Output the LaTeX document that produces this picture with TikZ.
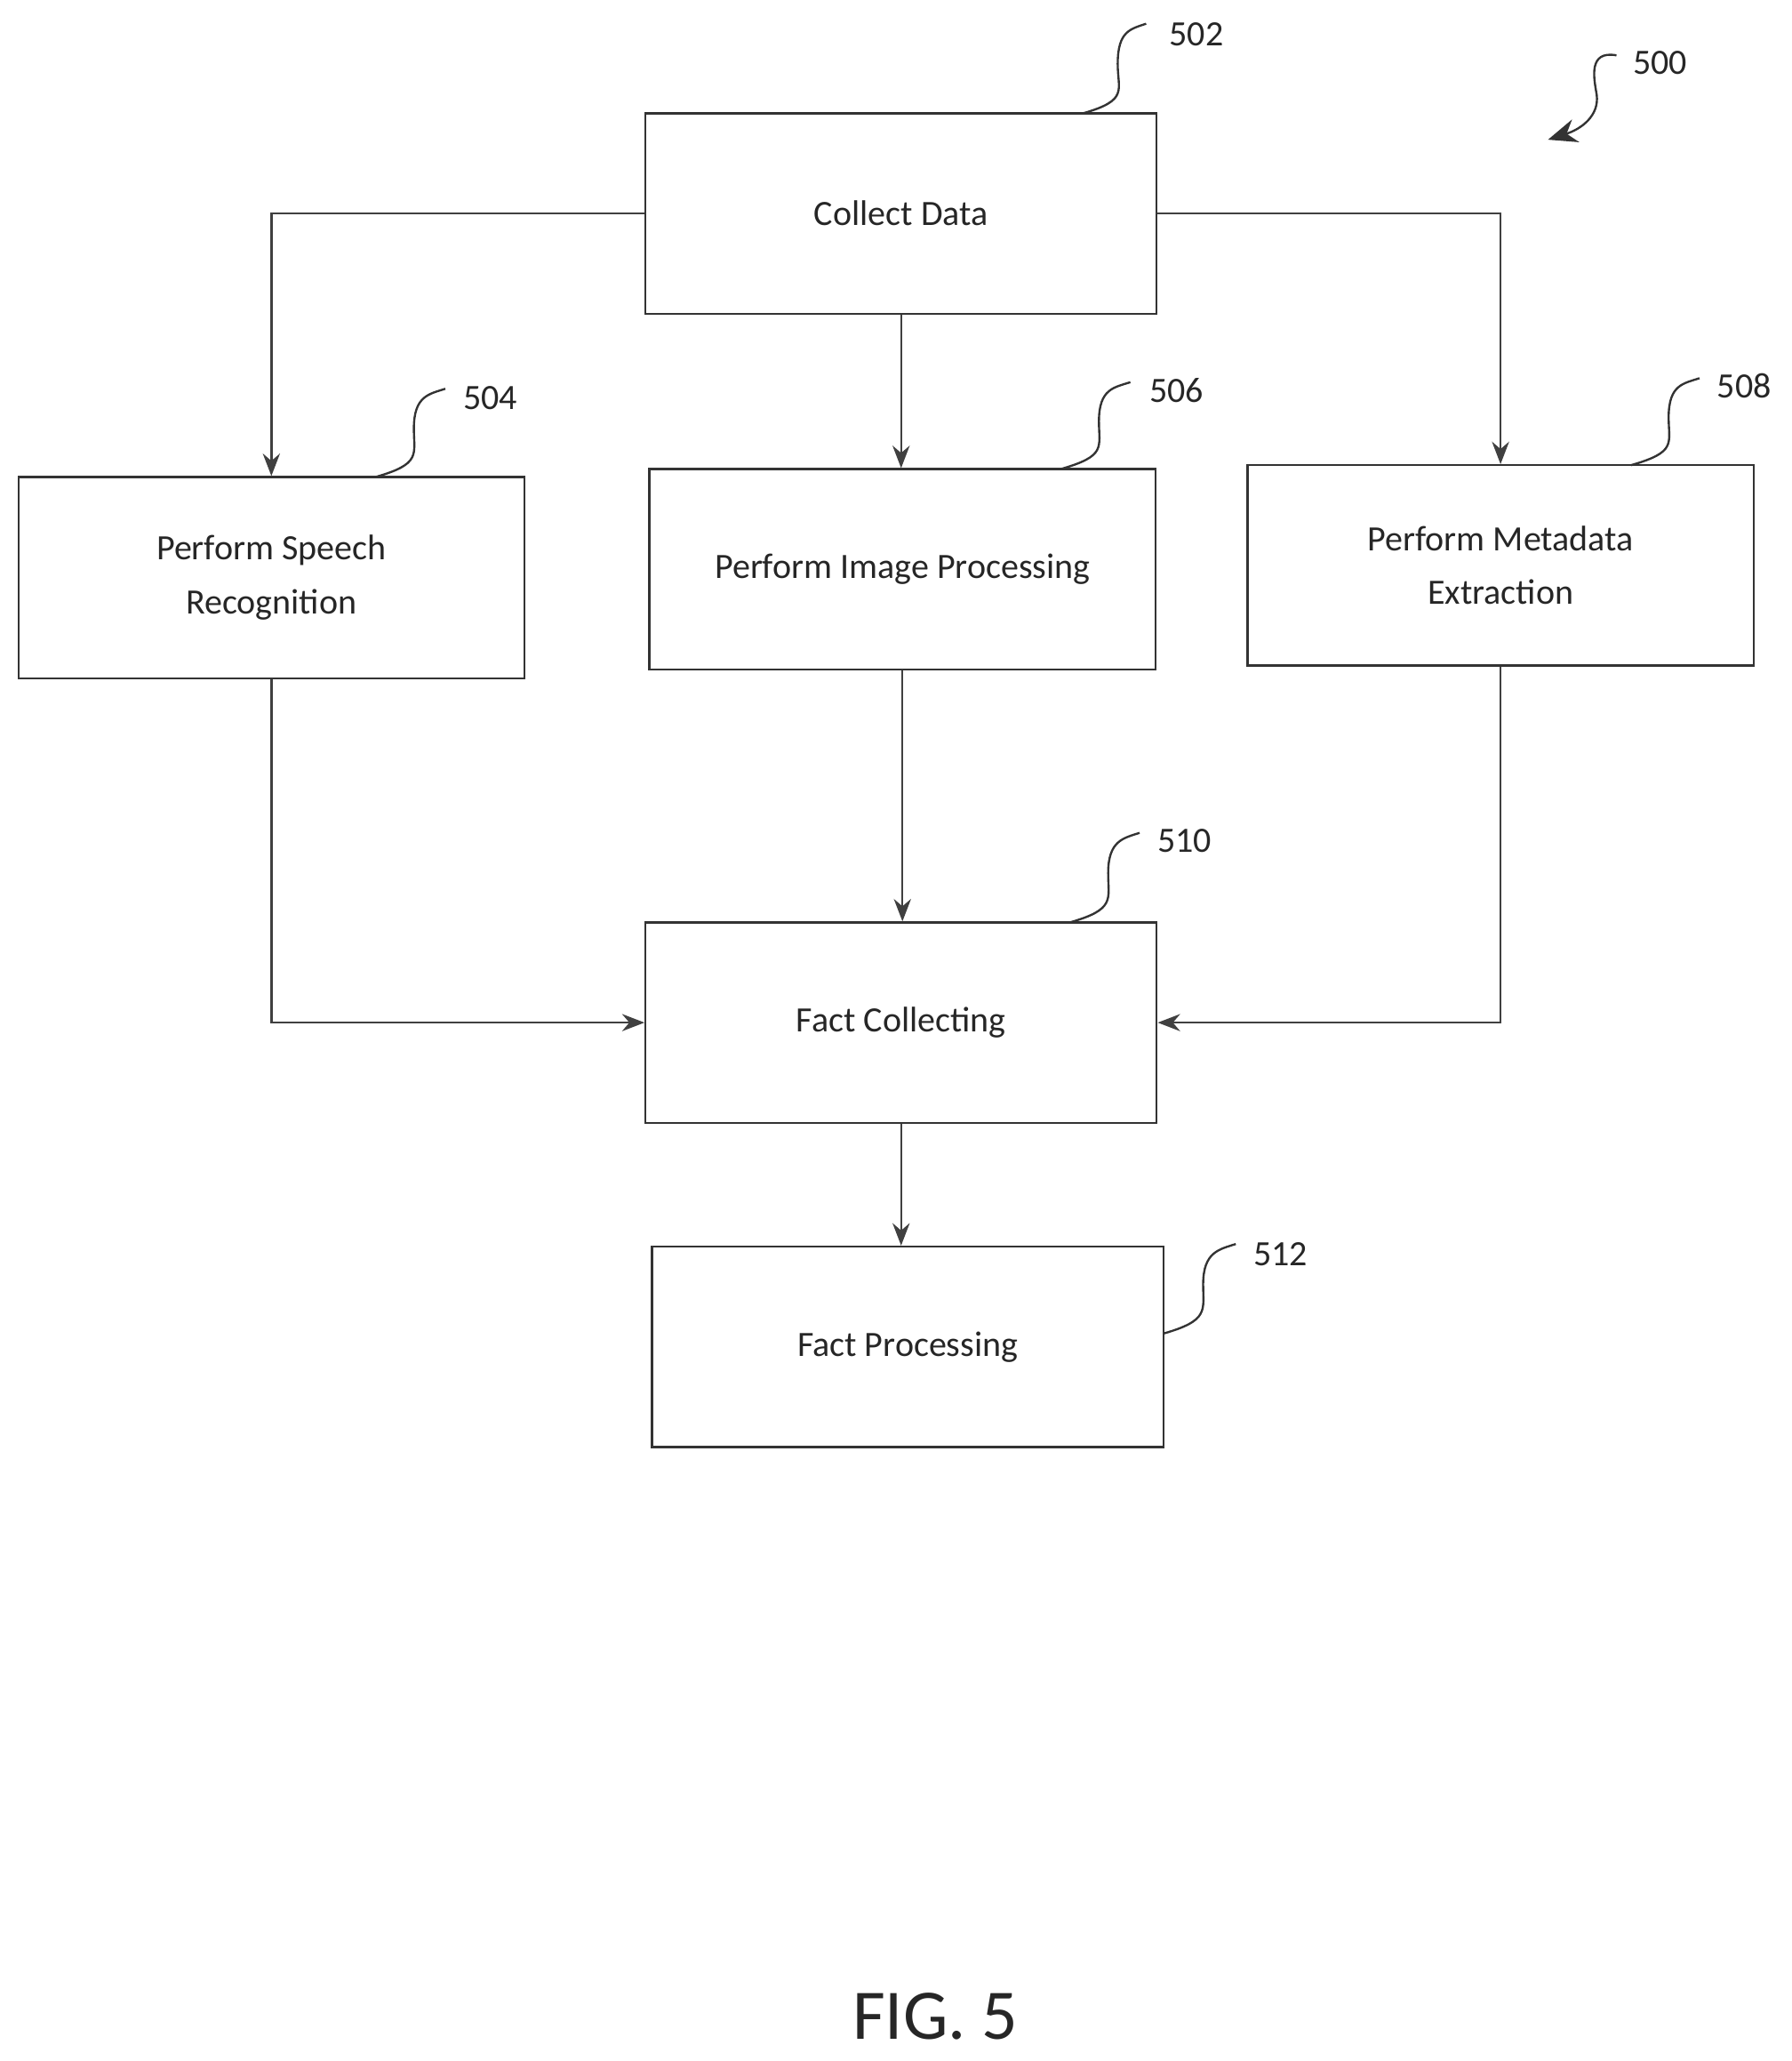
\documentclass[tikz,border=0pt]{standalone}
\usepackage{fontspec}
\setmainfont{Carlito}
\usetikzlibrary{arrows.meta,calc}
\begin{document}
\begin{tikzpicture}[x=1pt,y=-1pt,
  box/.style={draw=black!80,line width=1.6pt,minimum width=388pt,minimum height=152pt,align=center,font=\fontsize{27}{41}\selectfont,text=black!85},
  arr/.style={draw=black!75,line width=1.6pt,-{Stealth[length=17pt,width=13pt]}},
  lbl/.style={font=\fontsize{27}{30}\selectfont,text=black!85},
  sq/.style={draw=black!80,line width=1.6pt}]
\useasboundingbox (0,0) rectangle (1360,1564);
\node[box] (n502) at (684,162) {Collect Data};
\node[box,minimum width=384pt,minimum height=153pt] (n504) at (206,438.5) {Perform Speech\\Recognition};
\node[box,minimum width=384pt] (n506) at (685,432) {Perform Image Processing};
\node[box,minimum width=384pt] (n508) at (1139,429) {Perform Metadata\\Extraction};
\node[box] (n510) at (684,776) {Fact Collecting};
\node[box] (n512) at (689,1022) {Fact Processing};
\draw[arr] (n502.west) -| (n504.north);
\draw[arr] (n502.east) -| (n508.north);
\draw[arr] (n502.south) -- (n502.south |- n506.north);
\draw[arr] (n506.south) -- (n506.south |- n510.north);
\draw[arr] (n504.south) |- (n510.west);
\draw[arr] (n508.south) |- (n510.east);
\draw[arr] (n510.south) -- (n510.south |- n512.north);
\coordinate (s502) at (822,86); \coordinate (e502) at (870,18);
\coordinate (s504) at (285,362); \coordinate (e504) at (338,295);
\coordinate (s506) at (805,356); \coordinate (e506) at (858,290);
\coordinate (s508) at (1238,353); \coordinate (e508) at (1290,287);
\coordinate (s510) at (812,700); \coordinate (e510) at (865,632);
\coordinate (s512) at (883,1012); \coordinate (e512) at (938,944);
\foreach \n in {502,504,506,508,510,512}{
  \draw[sq] (s\n) .. controls +(35,-10) and +(0,20) .. ($(s\n)!0.55!(e\n)$)
     .. controls +(0,-25) and +(-12,4) .. (e\n);
}
\node[lbl,anchor=west] (l502) at (884,26) {502};
\node[lbl,anchor=west] (l504) at (348,302) {504};
\node[lbl,anchor=west] (l506) at (869,296) {506};
\node[lbl,anchor=west] (l508) at (1300,293) {508};
\node[lbl,anchor=west] (l510) at (875,638) {510};
\node[lbl,anchor=west] (l512) at (948,952) {512};
\node[lbl,anchor=west] (l500) at (1236,48) {500};
\coordinate (a500s) at (1227,42);
\coordinate (a500e) at (1175,106);
\draw[sq,-{Stealth[length=22pt,width=18pt]}] (a500s) .. controls (1205,38) and (1210,60) .. (1212,72) .. controls (1214,88) and (1200,98) .. (a500e);
\node[font=\fontsize{54}{60}\selectfont,text=black!85] (fig) at (710,1530) {FIG. 5};
\end{tikzpicture}
\end{document}
